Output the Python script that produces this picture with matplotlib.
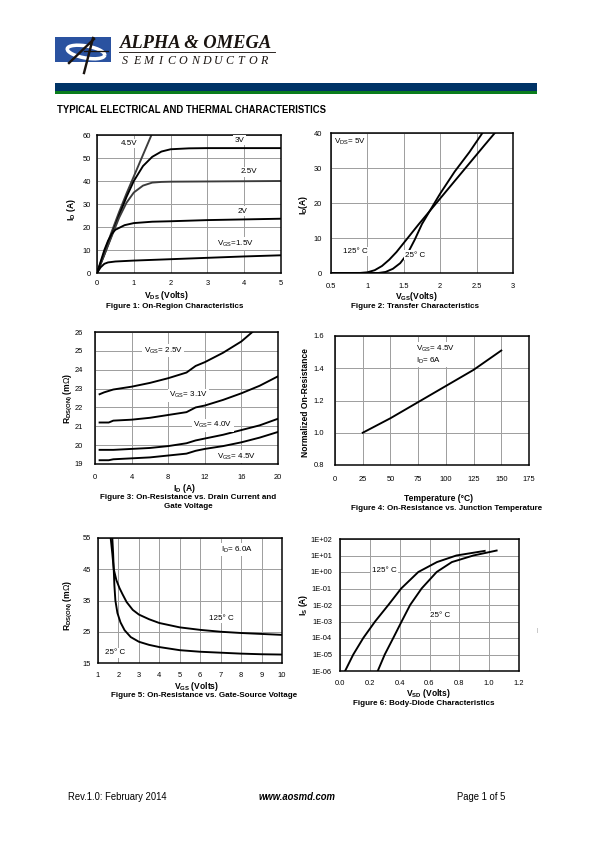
import matplotlib.pyplot as plt
from matplotlib.patches import Rectangle, Arc

# ---- data ----
# Figure 1: On-region characteristics (Vds, Id) per Vgs
f1_vds_45 = [0, 0.2, 0.4, 0.6, 0.8, 1.0, 1.2, 1.48]
f1_id_45 = [0, 9, 18, 26.5, 34.5, 42, 49.5, 60]
f1_vds_3 = [0, 0.2, 0.4, 0.6, 0.8, 1.0, 1.25, 1.5, 1.75, 2.0, 2.5, 3.0, 5.0]
f1_id_3 = [0, 8, 16.5, 25, 33, 40, 46.5, 50.5, 52.8, 53.8, 54.2, 54.3, 54.3]
f1_vds_25 = [0, 0.2, 0.4, 0.6, 0.8, 1.0, 1.25, 1.5, 1.75, 2.0, 3.0, 5.0]
f1_id_25 = [0, 8, 16, 24, 30.5, 35, 38, 39.3, 39.6, 39.7, 39.8, 40]
f1_vds_2 = [0, 0.1, 0.2, 0.3, 0.4, 0.5, 0.75, 1.0, 1.5, 2.0, 3.0, 4.0, 5.0]
f1_id_2 = [0, 5, 10, 14, 17, 18.8, 20.8, 21.7, 22.3, 22.5, 23, 23.3, 23.6]
f1_vds_15 = [0, 0.1, 0.2, 0.3, 0.5, 1.0, 2.0, 3.0, 4.0, 5.0]
f1_id_15 = [0, 2.5, 4, 4.6, 5, 5.4, 6, 6.6, 7.2, 7.7]

# Figure 2: Transfer characteristics
f2_vgs_125 = [0.5, 0.9, 1.0, 1.1, 1.2, 1.3, 1.4, 1.5, 1.6, 1.7, 1.8, 2.0, 2.2, 2.4, 2.6, 2.75]
f2_id_125 = [0, 0.02, 0.2, 0.8, 2.0, 3.8, 6.0, 8.6, 11.2, 13.8, 16.3, 21.3, 26.3, 31.3, 36.3, 40]
f2_vgs_25 = [0.5, 1.15, 1.25, 1.35, 1.45, 1.55, 1.65, 1.75, 1.85, 2.0, 2.2, 2.4, 2.58]
f2_id_25 = [0, 0, 0.3, 1.2, 2.8, 5.5, 9.5, 14, 17.5, 22.7, 29, 34.5, 40]

# Figure 3: Rds(on) vs drain current
f3_id = [0.5, 1.5, 2, 4, 6, 8, 10, 11, 12, 14, 16, 18, 20]
f3_r_31 = [21.2, 21.2, 21.3, 21.35, 21.45, 21.6, 21.75, 22.0, 22.1, 22.4, 22.75, 23.15, 23.65]
f3_r_40 = [19.75, 19.75, 19.75, 19.8, 19.85, 19.95, 20.1, 20.25, 20.35, 20.55, 20.8, 21.05, 21.4]
f3_r_45 = [19.2, 19.2, 19.25, 19.3, 19.35, 19.45, 19.55, 19.7, 19.8, 19.95, 20.15, 20.4, 20.7]
f3_id_25 = [0.5, 1, 2, 4, 6, 8, 10, 11, 12, 14, 16, 17.2]
f3_r_25 = [22.7, 22.8, 22.95, 23.1, 23.3, 23.55, 23.85, 24.2, 24.4, 24.9, 25.5, 26.0]

# Figure 4: normalized on-resistance vs temperature
f4_temp = [25, 50, 75, 100, 125, 150]
f4_rnorm = [1.0, 1.09, 1.19, 1.29, 1.39, 1.51]

# Figure 5: Rds(on) vs Vgs
f5_vgs_125 = [1.62, 1.7, 1.77, 1.9, 2.05, 2.2, 2.4, 2.7, 3, 3.5, 4, 5, 6, 7, 8, 9, 10]
f5_r_125 = [55, 50, 45, 41.5, 39, 37, 34.5, 32, 30.5, 29, 27.8, 26.4, 25.6, 25, 24.6, 24.3, 24.0]
f5_vgs_25 = [1.70, 1.74, 1.77, 1.8, 1.85, 1.95, 2.1, 2.3, 2.6, 3, 3.5, 4, 5, 6, 7, 8, 9, 10]
f5_r_25 = [55, 50, 45, 40, 35, 31, 28, 25.5, 23.3, 21.8, 20.8, 20.1, 19.1, 18.6, 18.3, 18.0, 17.8, 17.7]

# Figure 6: body diode
f6_vsd_125 = [0.034, 0.089, 0.156, 0.235, 0.324, 0.41, 0.525, 0.65, 0.78, 0.9, 0.97]
f6_is_125 = [1e-6, 1e-5, 1e-4, 1e-3, 1e-2, 1e-1, 1, 4, 10, 15, 19]
f6_vsd_25 = [0.253, 0.30, 0.357, 0.413, 0.47, 0.547, 0.648, 0.75, 0.894, 1.05]
f6_is_25 = [1e-6, 1e-5, 1e-4, 1e-3, 1e-2, 1e-1, 1, 4, 10, 20]
f6_yticks = [1e-6, 1e-5, 1e-4, 1e-3, 1e-2, 1e-1, 1, 10, 100]
f6_ylabels = ['1E-06', '1E-05', '1E-04', '1E-03', '1E-02', '1E-01', '1E+00', '1E+01', '1E+02']

W, H = 595, 842
plt.rcParams['font.family'] = ['Liberation Sans', 'DejaVu Sans']
plt.rcParams['mathtext.fontset'] = 'custom'
plt.rcParams['mathtext.rm'] = 'Liberation Sans'
fig = plt.figure(figsize=(W / 72, H / 72), dpi=72)


def px_axes(x0, y0, x1, y1):
    return fig.add_axes([x0 / W, 1 - y1 / H, (x1 - x0) / W, (y1 - y0) / H])


def ftext(x, y, s, **kw):
    kw.setdefault('ha', 'center')
    kw.setdefault('va', 'center')
    fig.text(x / W, 1 - y / H, s, **kw)


def style(ax, xlim, ylim, xticks, yticks, xlabels, ylabels, xpad, ypad, fs=7.5):
    ax.set_xlim(xlim)
    ax.set_ylim(ylim)
    ax.set_xticks(xticks)
    ax.set_yticks(yticks)
    ax.set_xticklabels(xlabels)
    ax.set_yticklabels(ylabels)
    ax.minorticks_off()
    ax.grid(True, color='#a0a0a0', lw=1)
    ax.set_axisbelow(True)
    for s in ax.spines.values():
        s.set_linewidth(1.5)
    ax.tick_params(axis='x', length=0, labelsize=fs, pad=xpad)
    ax.tick_params(axis='y', length=0, labelsize=fs, pad=ypad)


def note(ax, x, y, s, fs=8, ha='center'):
    ax.text(x, y, s, fontsize=fs, ha=ha, va='center', zorder=5, clip_on=False,
            bbox=dict(fc='white', ec='none', pad=1.2))


LW = 1.9
lab = dict(fontweight='bold', fontsize=8.5)
cap = dict(fontweight='bold', fontsize=8)

# ---- header ----
deco = fig.add_axes([0, 0, 1, 1])
deco.set_xlim(0, W)
deco.set_ylim(H, 0)
deco.axis('off')
deco.add_patch(Rectangle((55, 37), 56, 25, fc='#2a52a0', ec='none'))
deco.add_patch(Arc((86, 52), 38, 12, angle=10, theta1=0, theta2=360, color='white', lw=3.5))
deco.plot([69, 94], [63, 39], color='#1a1410', lw=2.4)
deco.plot([93, 84], [38, 73], color='#1a1410', lw=2.4)
deco.plot([84, 108], [51, 51], color='#1a1410', lw=1.3)
deco.plot([119, 275], [51.7, 51.7], color='#1a1410', lw=0.9)
deco.add_patch(Rectangle((55, 83), 482, 8.3, fc='#003366', ec='none'))
deco.add_patch(Rectangle((55, 91.3), 482, 2.6, fc='#0a7d1c', ec='none'))
ftext(119.5, 43.5, 'ALPHA & OMEGA', ha='left', family='Liberation Serif',
      fontweight='bold', style='italic', fontsize=18.5, color='#1a1410')
for i, ch in enumerate('SEMICONDUCTOR'):
    ftext(125 + i * 11.6, 60.5, ch, family='Liberation Serif', style='italic',
          fontsize=12, color='#1a1410')
ftext(57, 110, 'TYPICAL ELECTRICAL AND THERMAL CHARACTERISTICS', ha='left',
      fontweight='bold', fontsize=9.5)

# ---- Figure 1 ----
ax1 = px_axes(97, 135, 281, 273)
style(ax1, (0, 5), (0, 60), range(0, 6), range(0, 61, 10),
      [str(v) for v in range(6)], [str(v) for v in range(0, 61, 10)], 7, 6)
ax1.plot(f1_vds_45, f1_id_45, color='#3c3c3c', lw=LW)
ax1.plot(f1_vds_3, f1_id_3, color='black', lw=LW)
ax1.plot(f1_vds_25, f1_id_25, color='#3c3c3c', lw=LW)
ax1.plot(f1_vds_2, f1_id_2, color='black', lw=LW)
ax1.plot(f1_vds_15, f1_id_15, color='black', lw=LW)
note(ax1, 0.86, 56.4, '4.5V')
note(ax1, 3.87, 57.8, '3V')
note(ax1, 4.14, 44, '2.5V')
note(ax1, 3.96, 26.9, '2V')
note(ax1, 3.75, 12.8, r'V$_{\mathregular{GS}}$=1.5V')
ftext(71, 210, r'I$_{\mathregular{D}}$ (A)', rotation=90, **lab)
ftext(166, 295.5, r'V$_{\mathregular{DS}}$ (Volts)', **lab)
ftext(175, 306, 'Figure 1: On-Region Characteristics', **cap)

# ---- Figure 2 ----
ax2 = px_axes(331, 133, 513, 273)
x2 = [0.5, 1, 1.5, 2, 2.5, 3]
style(ax2, (0.5, 3), (0, 40), x2, range(0, 41, 10),
      ['0.5', '1', '1.5', '2', '2.5', '3'], [str(v) for v in range(0, 41, 10)], 10, 9)
ax2.plot(f2_vgs_125, f2_id_125, color='black', lw=LW)
ax2.plot(f2_vgs_25, f2_id_25, color='black', lw=LW)
note(ax2, 0.54, 37.6, r'V$_{\mathregular{DS}}$= 5V', ha='left')
note(ax2, 0.84, 6.2, '125° C')
note(ax2, 1.66, 5.1, '25° C')
ftext(304, 205, r'I$_{\mathregular{D}}$(A)', rotation=90, **lab)
ftext(416, 296.5, r'V$_{\mathregular{GS}}$(Volts)', **lab)
ftext(415, 306, 'Figure 2: Transfer Characteristics', **cap)

# ---- Figure 3 ----
ax3 = px_axes(95, 332, 278, 464)
style(ax3, (0, 20), (19, 26), range(0, 21, 4), range(19, 27),
      [str(v) for v in range(0, 21, 4)], [str(v) for v in range(19, 27)], 10, 12)
ax3.plot(f3_id_25, f3_r_25, color='black', lw=LW)
ax3.plot(f3_id, f3_r_31, color='black', lw=LW)
ax3.plot(f3_id, f3_r_40, color='black', lw=LW)
ax3.plot(f3_id, f3_r_45, color='black', lw=LW)
note(ax3, 7.45, 25.03, r'V$_{\mathregular{GS}}$= 2.5V')
note(ax3, 10.2, 22.65, r'V$_{\mathregular{GS}}$= 3.1V')
note(ax3, 12.9, 21.06, r'V$_{\mathregular{GS}}$= 4.0V')
note(ax3, 15.45, 19.39, r'V$_{\mathregular{GS}}$= 4.5V')
ftext(68, 398, r'R$_{\mathregular{DS(ON)}}$ (m$\Omega$)', rotation=90, **lab)
ftext(184, 488, r'I$_{\mathregular{D}}$ (A)', **lab)
ftext(188, 497.5, 'Figure 3: On-Resistance vs. Drain Current and', **cap)
ftext(188, 507, 'Gate Voltage', **cap)

# ---- Figure 4 ----
ax4 = px_axes(335, 336, 529, 465)
y4 = [0.8, 1.0, 1.2, 1.4, 1.6]
style(ax4, (0, 175), (0.8, 1.6), range(0, 176, 25), y4,
      [str(v) for v in range(0, 176, 25)], ['%.1f' % v for v in y4], 11, 11)
ax4.plot(f4_temp, f4_rnorm, color='black', lw=LW)
note(ax4, 73.5, 1.485, 'V$_{\\mathregular{GS}}$= 4.5V\nI$_{\\mathregular{D}}$= 6A', ha='left')
ftext(305, 403, 'Normalized On-Resistance', rotation=90, **lab)
ftext(439, 498.5, 'Temperature (°C)', **lab)
ftext(446.5, 508, 'Figure 4: On-Resistance vs. Junction Temperature', **cap)

# ---- Figure 5 ----
ax5 = px_axes(98, 538, 282, 663)
style(ax5, (1, 10), (15, 55), range(1, 11), range(15, 56, 10),
      [str(v) for v in range(1, 11)], [str(v) for v in range(15, 56, 10)], 9, 7)
ax5.plot(f5_vgs_125, f5_r_125, color='black', lw=LW)
ax5.plot(f5_vgs_25, f5_r_25, color='black', lw=LW)
note(ax5, 7.8, 51.2, r'I$_{\mathregular{D}}$= 6.0A')
note(ax5, 7.05, 29.3, '125° C')
note(ax5, 1.85, 18.2, '25° C')
ftext(68, 605, r'R$_{\mathregular{DS(ON)}}$ (m$\Omega$)', rotation=90, **lab)
ftext(197, 686.5, r'V$_{\mathregular{GS}}$ (Volts)', **lab)
ftext(204, 695.5, 'Figure 5: On-Resistance vs. Gate-Source Voltage', **cap)

# ---- Figure 6 ----
ax6 = px_axes(340, 539, 519, 671)
ax6.set_yscale('log')
x6 = [0.0, 0.2, 0.4, 0.6, 0.8, 1.0, 1.2]
style(ax6, (0, 1.2), (1e-6, 1e2), x6, f6_yticks,
      ['%.1f' % v for v in x6], f6_ylabels, 9, 8)
ax6.plot(f6_vsd_125, f6_is_125, color='black', lw=LW)
ax6.plot(f6_vsd_25, f6_is_25, color='black', lw=LW)
note(ax6, 0.30, 1.3, '125° C')
note(ax6, 0.67, 2.4e-3, '25° C')
ftext(304, 605, r'I$_{\mathregular{S}}$ (A)', rotation=90, **lab)
ftext(428, 693.5, r'V$_{\mathregular{SD}}$ (Volts)', **lab)
ftext(424, 703.5, 'Figure 6: Body-Diode Characteristics', **cap)
ftext(536.7, 630.5, '|', fontsize=5, color='#909090')

# ---- footer ----
ftext(67.5, 797, 'Rev.1.0: February 2014', ha='left', fontsize=9.5)
ftext(297, 797, 'www.aosmd.com', fontsize=9.5, fontweight='bold', style='italic')
ftext(505.5, 797, 'Page 1 of 5', ha='right', fontsize=9.5)

fig.savefig('out.png', dpi=72, facecolor='white')
